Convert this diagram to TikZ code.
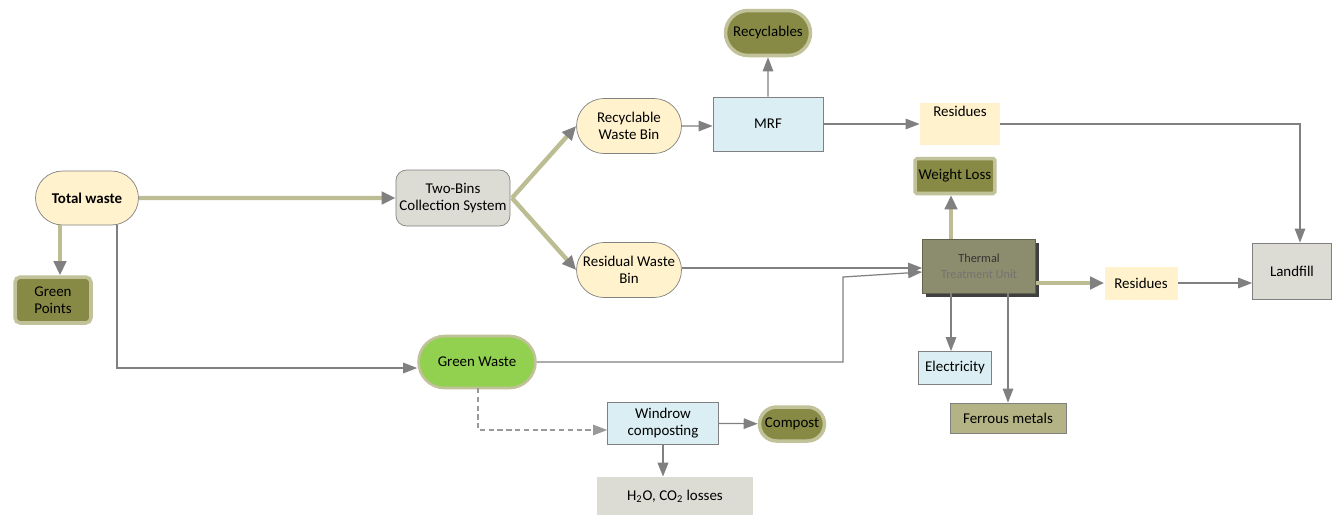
\documentclass[tikz,border=0pt]{standalone}
\usepackage{fontspec}
\setmainfont{Carlito}
\usepackage{tikz}
\usetikzlibrary{shapes.misc, arrows.meta, shadows}

\definecolor{creamfill}{HTML}{FFF2CC}
\definecolor{olivefill}{HTML}{878A45}
\definecolor{oliveglow}{HTML}{C2C29A}
\definecolor{bluefill}{HTML}{DAEEF3}
\definecolor{greyfill}{HTML}{DCDCD4}
\definecolor{greenfill}{HTML}{92D050}
\definecolor{khakifill}{HTML}{B3B385}
\definecolor{thermfill}{HTML}{8C8C6E}
\definecolor{linegrey}{HTML}{808080}
\definecolor{flowolive}{HTML}{BDBD93}

\begin{document}
\begin{tikzpicture}[x=0.02cm, y=-0.02cm,
    every node/.style={font=\fontsize{8.5}{10}\selectfont, align=center, inner sep=2pt},
    pill/.style={rounded rectangle, draw=linegrey, fill=creamfill},
    olivepill/.style={rounded rectangle, draw=oliveglow, line width=2pt, fill=olivefill},
    olivebox/.style={rectangle, rounded corners=3pt, draw=oliveglow, line width=2pt, fill=olivefill},
    bluebox/.style={rectangle, draw=linegrey, fill=bluefill},
    greybox/.style={rectangle, draw=linegrey, fill=greyfill},
    creambox/.style={rectangle, fill=creamfill},
    flow/.style={draw=linegrey, line width=0.7pt, -{Triangle[length=8pt, width=6pt]}},
    thickflow/.style={draw=flowolive, line width=2.5pt, -{Triangle[length=8pt, width=7pt, color=linegrey]}},
    dotflow/.style={draw=linegrey!80, line width=0.6pt, densely dashed, -{Triangle[length=8pt, width=6pt]}}]

    \useasboundingbox (0,0) rectangle (1332,515);

    \node (total) at (87,198) [pill, minimum width=2.2cm, minimum height=1.08cm] {\textbf{Total waste}};
    \node (points) at (53,300) [olivebox, minimum width=1.52cm, minimum height=0.92cm] {Green\\Points};

    \node (twobins) at (453,198) [greybox, rounded corners=6pt, minimum width=2.26cm, minimum height=1.12cm] {Two-Bins\\Collection System};

    \node (recbin) at (629,126) [pill, minimum width=2.24cm, minimum height=1.1cm] {Recyclable\\Waste Bin};
    \node (resbin) at (629,270) [pill, minimum width=2.24cm, minimum height=1.1cm] {Residual Waste\\Bin};

    \node (mrf) at (768,124) [bluebox, minimum width=2.2cm, minimum height=1.08cm] {MRF};
    \node (recyc) at (768,33) [olivepill, minimum width=1.84cm, minimum height=0.9cm] {Recyclables};
    \node (resa) at (960,124) [creambox, minimum width=1.6cm, minimum height=0.74cm] {Residues\\[4pt]};

    \node (thermal) at (979,266) [rectangle, fill=thermfill, draw=thermfill!70!black,
        drop shadow={shadow xshift=2pt, shadow yshift=-2pt, fill=black!75, opacity=1},
        minimum width=2.26cm, minimum height=1.08cm, font=\fontsize{7}{9}\selectfont]
        {\textcolor{black!80}{Thermal}\\\textcolor{black!55}{Treatment Unit}};
    \node (wloss) at (955,176) [olivebox, rounded corners=1pt, minimum width=1.48cm, minimum height=0.7cm] {Weight Loss};
    \node (resb) at (1141,283) [creambox, minimum width=1.46cm, minimum height=0.66cm] {Residues};
    \node (landfill) at (1292,271) [greybox, minimum width=1.58cm, minimum height=1.12cm] {Landfill};
    \node (elec) at (955,368) [bluebox, minimum width=1.46cm, minimum height=0.66cm] {Electricity};
    \node (ferrous) at (1008,418) [rectangle, draw=linegrey, fill=khakifill, minimum width=2.32cm, minimum height=0.6cm] {Ferrous metals};

    \node (green) at (477,362) [rounded rectangle, draw=oliveglow, line width=1.5pt, fill=greenfill, minimum width=2.48cm, minimum height=1.04cm] {Green Waste};
    \node (windrow) at (663,423) [bluebox, minimum width=2.22cm, minimum height=0.84cm] {Windrow\\composting};
    \node (compost) at (792,424) [olivepill, minimum width=1.44cm, minimum height=0.68cm] {Compost};
    \node (losses) at (675,496) [rectangle, fill=greyfill, minimum width=3.12cm, minimum height=0.76cm] {H\textsubscript{2}O, CO\textsubscript{2} losses};

    \coordinate (tw1) at (117,225);
    \coordinate (tw2) at (117,368);
    \coordinate (fork) at (512,198);
    \coordinate (lf1) at (1300,124);
    \coordinate (gw1) at (843,362);
    \coordinate (gw2) at (843,277);
    \coordinate (gd1) at (478,388);
    \coordinate (gd2) at (478,430);

    \draw[thickflow] (total) -- (twobins);
    \draw[thickflow] (60,225) -- (points.north -| 60,0);
    \draw[flow] (tw1) -- (tw2) -- (green.west |- tw2);

    \draw[thickflow] (fork) -- (recbin.west);
    \draw[thickflow] (fork) -- (resbin.west);

    \draw[flow] (recbin) -- (mrf.west |- recbin);
    \draw[flow] (mrf) -- (recyc);
    \draw[flow] (mrf) -- (resa.west |- mrf);
    \draw[flow] (resa.east |- mrf) -- (lf1) -- (landfill.north -| lf1);

    \draw[flow] (resbin.east |- 0,268) -- (thermal.west |- 0,268);
    \draw[flow] (green) -- (gw1) -- (gw2) -- (thermal.west |- 0,272);

    \draw[thickflow] (thermal.north -| 951,0) -- (wloss.south -| 951,0);
    \draw[thickflow] (thermal.east |- resb) -- (resb);
    \draw[flow] (resb) -- (landfill.west |- resb);
    \draw[flow] (thermal.south -| 951,0) -- (elec.north -| 951,0);
    \draw[flow] (thermal.south -| ferrous) -- (ferrous);

    \draw[dotflow] (gd1) -- (gd2) -- (windrow.west |- gd2);
    \draw[flow] (windrow) -- (compost);
    \draw[flow, line width=1.2pt] (windrow.south) -- (losses.north -| windrow.south);
\end{tikzpicture}
\end{document}
